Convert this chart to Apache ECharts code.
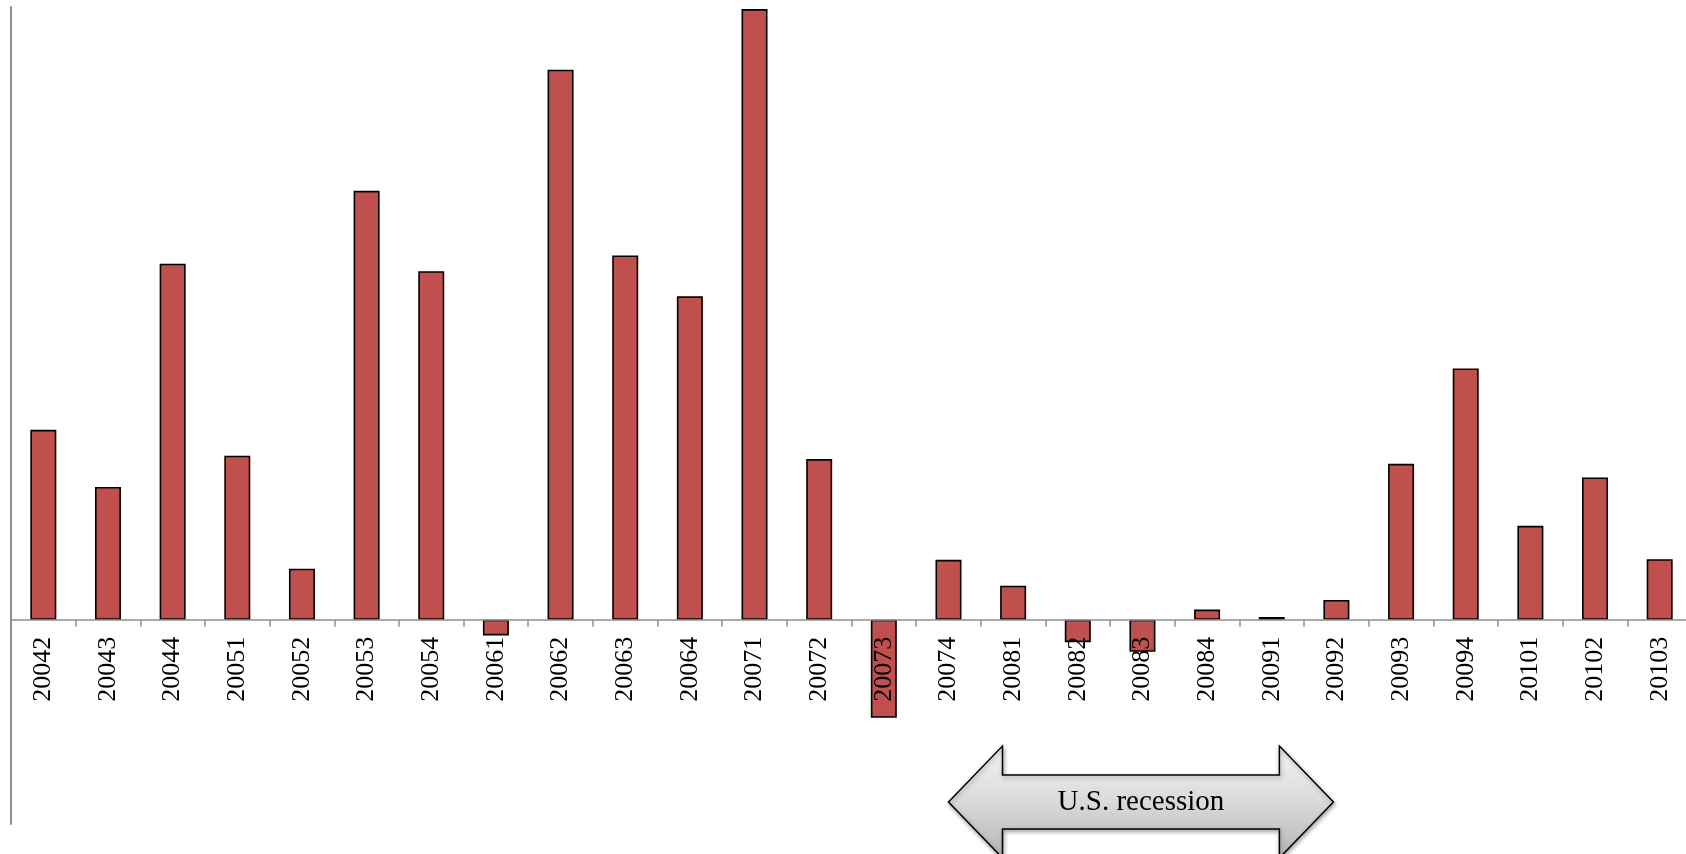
<!DOCTYPE html>
<html>
<head>
<meta charset="utf-8">
<title>Quarterly change</title>
<script src="https://cdn.jsdelivr.net/npm/echarts@6/dist/echarts.min.js"></script>
<style>
  html, body { margin: 0; padding: 0; background: #fff; }
  #chart { width: 1686px; height: 854px; }
</style>
</head>
<body>
<div id="chart"></div>
<script>
// Quarters (year + quarter number)
var quarters = ['20042', '20043', '20044', '20051', '20052', '20053', '20054',
  '20061', '20062', '20063', '20064', '20071', '20072', '20073', '20074',
  '20081', '20082', '20083', '20084', '20091', '20092', '20093', '20094',
  '20101', '20102', '20103'];

// Quarterly values
var values = [2.79, 1.95, 5.23, 2.41, 0.75, 6.30, 5.12,
  -0.23, 8.08, 5.35, 4.75, 8.97, 2.36, -1.44, 0.88,
  0.50, -0.33, -0.47, 0.15, 0.04, 0.29, 2.29, 3.69,
  1.38, 2.09, 0.89];

// Value axis range
var yMin = -3;
var yMax = 9;

// Recession span, marked by the double arrow below the axis
var recessionLabel = 'U.S. recession';
var recessionStart = '20074';
var recessionEnd = '20092';

var gridTop = 7;
var gridBottom = 30;
var chartHeight = 854;
var plotHeight = chartHeight - gridTop - gridBottom;
// distance from the bottom of the plot up to the zero line
var zeroLift = plotHeight * (0 - yMin) / (yMax - yMin);

var chart = echarts.init(document.getElementById('chart'), null, { renderer: 'canvas' });

chart.setOption({
  animation: false,
  backgroundColor: '#ffffff',
  grid: {
    left: 11, top: gridTop, bottom: gridBottom, width: 1681,
    containLabel: false, outerBoundsMode: 'none'
  },
  xAxis: {
    type: 'category',
    data: quarters,
    position: 'bottom',
    offset: -zeroLift,
    z: 3,
    axisLine: { onZero: false, lineStyle: { color: '#8f8f8f', width: 1.5 } },
    axisTick: { show: true, length: 7, lineStyle: { color: '#8f8f8f', width: 1.5 } },
    axisLabel: {
      interval: 0,
      rotate: 90,
      margin: 17,
      color: '#000',
      fontFamily: 'Liberation Serif, Times New Roman, serif',
      fontSize: 26,
      hideOverlap: false
    },
    splitLine: { show: false }
  },
  yAxis: {
    type: 'value',
    min: yMin,
    max: yMax,
    interval: 3,
    axisLine: { show: true, lineStyle: { color: '#8f8f8f', width: 2 } },
    axisTick: { show: false },
    axisLabel: { show: false },
    splitLine: { show: false }
  },
  series: [{
    type: 'bar',
    data: values,
    barWidth: 26,
    itemStyle: { color: '#C0504D', borderColor: '#000', borderWidth: 1.6 }
  }]
});

// Recession arrow spanning the recession quarters
function drawRecessionArrow() {
  var x0 = chart.convertToPixel({ xAxisIndex: 0 }, recessionStart);
  var x1 = chart.convertToPixel({ xAxisIndex: 0 }, recessionEnd) - 3;
  var cy = 802;
  var head = 54;
  var bodyHalf = 27;
  var headHalf = 56;
  var pts = [
    [x0, cy],
    [x0 + head, cy - headHalf],
    [x0 + head, cy - bodyHalf],
    [x1 - head, cy - bodyHalf],
    [x1 - head, cy - headHalf],
    [x1, cy],
    [x1 - head, cy + headHalf],
    [x1 - head, cy + bodyHalf],
    [x0 + head, cy + bodyHalf],
    [x0 + head, cy + headHalf]
  ];
  chart.setOption({
    graphic: [{
      type: 'polygon',
      z: 10,
      shape: { points: pts },
      style: {
        fill: new echarts.graphic.LinearGradient(0, 0, 0, 1, [
          { offset: 0, color: '#f4f4f4' },
          { offset: 0.5, color: '#dadada' },
          { offset: 1, color: '#b4b4b4' }
        ]),
        stroke: '#000',
        lineWidth: 1.5,
        shadowBlur: 4,
        shadowOffsetX: 1,
        shadowOffsetY: 2,
        shadowColor: 'rgba(0,0,0,0.35)'
      }
    }, {
      type: 'text',
      z: 11,
      x: (x0 + x1) / 2,
      y: cy,
      style: {
        text: recessionLabel,
        fill: '#000',
        font: '29px "Liberation Serif", "Times New Roman", serif',
        align: 'center',
        verticalAlign: 'middle'
      }
    }]
  });
}
drawRecessionArrow();
</script>
</body>
</html>
